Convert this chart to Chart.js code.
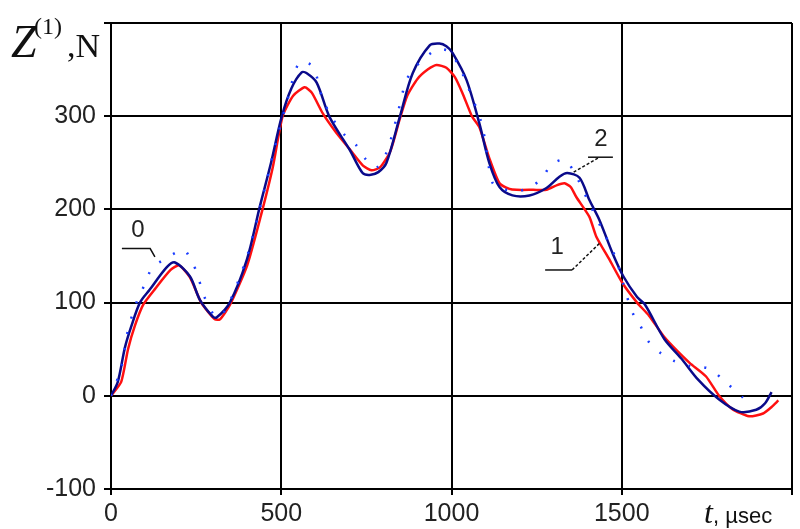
<!DOCTYPE html>
<html>
<head>
<meta charset="utf-8">
<script src="https://cdn.jsdelivr.net/npm/chart.js@4.4.1/dist/chart.umd.min.js"></script>
<style>
    body { margin: 0; background: #fff; }
    #wrap { width: 800px; height: 529px; position: relative; }
</style>
</head>
<body>
<div id="wrap"><canvas id="zChart"></canvas></div>
<script>
// DATA
const xTicks = [0, 500, 1000, 1500, 2000];
const yTicks = [-100, 0, 100, 200, 300, 400];

// curve 1 (red)
const t1 = [0, 30, 50, 70, 95, 130, 175, 200, 232, 265, 305, 320, 350, 400, 440, 475, 504, 535, 569, 590, 622, 660, 700, 740, 765, 790, 820, 848, 870, 900, 930, 956, 985, 1010, 1032, 1060, 1082, 1111, 1141, 1170, 1191, 1240, 1279, 1310, 1332, 1350, 1367, 1405, 1425, 1464, 1502, 1545, 1580, 1625, 1666, 1700, 1747, 1786, 1824, 1874, 1915, 1940, 1960];
const z1 = [0, 15, 50, 75, 98, 115, 135, 140, 127, 100, 82, 82, 98, 140, 193, 245, 300, 322, 331, 325, 303, 283, 265, 247, 242, 245, 262, 297, 322, 340, 350, 355, 352, 342, 325, 300, 288, 255, 228, 222, 221, 221, 221, 226, 228, 224, 213, 192, 171, 146, 121, 100, 86, 63, 47, 35, 21, 0, -14, -22, -19, -12, -5];

// curve 2 (navy)
const t2 = [0, 20, 41, 60, 85, 114, 164, 188, 232, 261, 299, 310, 349, 399, 437, 470, 501, 530, 560, 575, 604, 642, 701, 739, 760, 785, 809, 848, 886, 936, 965, 985, 1003, 1044, 1082, 1111, 1141, 1179, 1229, 1279, 1317, 1340, 1376, 1405, 1434, 1473, 1505, 1545, 1568, 1625, 1675, 1725, 1786, 1845, 1895, 1921, 1940];
const z2 = [0, 15, 52, 75, 100, 114, 138, 143, 128, 103, 85, 84, 100, 146, 203, 250, 299, 330, 347, 346, 336, 299, 264, 239, 237, 240, 250, 299, 346, 376, 378, 375, 368, 339, 292, 250, 224, 215, 215, 223, 235, 239, 234, 210, 189, 153, 128, 106, 98, 61, 40, 17, -4, -17, -15, -8, 4];

// curve 0 (blue dotted)
const t0 = [0, 30, 50, 61, 80, 100, 120, 150, 193, 217, 237, 252, 270, 300, 320, 350, 400, 440, 480, 520, 554, 593, 620, 650, 686, 720, 750, 780, 810, 840, 868, 900, 955, 990, 1020, 1050, 1090, 1120, 1150, 1200, 1240, 1267, 1293, 1332, 1360, 1400, 1440, 1480, 1507, 1521, 1537, 1551, 1575, 1610, 1650, 1700, 1757, 1807, 1856];
const z0 = [0, 30, 71, 85, 105, 120, 137, 145, 154, 156, 143, 133, 110, 88, 85, 102, 150, 205, 265, 320, 358, 353, 320, 298, 280, 269, 253, 245, 262, 300, 339, 355, 371, 370, 355, 330, 290, 229, 222, 220, 226, 234, 248, 253, 240, 210, 180, 150, 117, 100, 85, 78, 60, 47, 38, 32, 29, 14, -2];

const toPoints = (ts, zs) => ts.map((t, i) => ({ x: t, y: zs[i] }));

// curve labels with leader lines (data coordinates)
const curveLabels = [
    { text: "0", at: [79, 177], lines: [[[32, 158], [115, 158], [129, 149]]], dash: [] },
    { text: "2", at: [1439, 275], lines: [[[1401, 256], [1474, 256]], [[1430, 255], [1354, 239]]], dash: [3, 2] },
    { text: "1", at: [1310, 159], lines: [[[1275, 135], [1354, 135]], [[1354, 135], [1436, 164]]], dash: [3, 2] },
];

const labelsPlugin = {
    id: "labels",
    afterDraw(chart) {
        const ctx = chart.ctx;
        const xs = chart.scales.x, ys = chart.scales.y;
        ctx.save();
        ctx.strokeStyle = "#111";
        ctx.lineWidth = 1.5;
        curveLabels.forEach((lab) => {
            lab.lines.forEach((seg, si) => {
                ctx.setLineDash(si === 0 ? [] : lab.dash);
                ctx.beginPath();
                seg.forEach((p, i) => {
                    const px = xs.getPixelForValue(p[0]), py = ys.getPixelForValue(p[1]);
                    if (i === 0) ctx.moveTo(px, py); else ctx.lineTo(px, py);
                });
                ctx.stroke();
            });
            ctx.setLineDash([]);
            ctx.fillStyle = "#222";
            ctx.font = "24px 'Liberation Sans'";
            ctx.textAlign = "center";
            ctx.textBaseline = "middle";
            ctx.fillText(lab.text, xs.getPixelForValue(lab.at[0]), ys.getPixelForValue(lab.at[1]));
        });

        // axis titles
        ctx.fillStyle = "#111";
        ctx.textAlign = "left";
        ctx.textBaseline = "alphabetic";
        ctx.font = "italic 46px 'Liberation Serif'";
        ctx.fillText("Z", 11, 57);
        ctx.font = "24px 'Liberation Serif'";
        ctx.fillText("(1)", 34, 34);
        ctx.font = "34px 'Liberation Serif'";
        ctx.fillText(",N", 67, 57);

        ctx.font = "italic 32px 'Liberation Serif'";
        ctx.fillText("t", 704, 523);
        ctx.font = "22px 'Liberation Sans'";
        ctx.fillText(", \u00b5sec", 713, 523);
        ctx.restore();
    },
};

const zChart = new Chart(document.getElementById("zChart"), {
    type: "line",
    data: {
        datasets: [
            {
                label: "0",
                data: toPoints(t0, z0),
                borderColor: "#1a3cff",
                borderWidth: 2.5,
                borderDash: [2, 14],
                pointRadius: 0,
                tension: 0.3,
            },
            {
                label: "2",
                data: toPoints(t2, z2),
                borderColor: "#0a0a8a",
                borderWidth: 2.5,
                pointRadius: 0,
                tension: 0.3,
            },
            {
                label: "1",
                data: toPoints(t1, z1),
                borderColor: "#ff1010",
                borderWidth: 2.5,
                pointRadius: 0,
                tension: 0.2,
            },
        ],
    },
    options: {
        responsive: true,
        maintainAspectRatio: false,
        animation: false,
        layout: { padding: { top: 22, right: 8, left: 0, bottom: 0 } },
        scales: {
            x: {
                type: "linear",
                min: xTicks[0],
                max: xTicks[xTicks.length - 1],
                afterBuildTicks: (s) => { s.ticks = xTicks.map((v) => ({ value: v })); },
                afterFit: (s) => { s.height = 40; },
                ticks: {
                    color: "#222",
                    font: { family: "'Liberation Sans'", size: 25 },
                    padding: 4,
                    maxRotation: 0,
                    callback: (v) => (v === 2000 ? "" : v),
                },
                grid: { color: "#000", lineWidth: 2, tickLength: 6, tickColor: "#000" },
                border: { color: "#000", width: 2 },
            },
            y: {
                min: yTicks[0],
                max: yTicks[yTicks.length - 1],
                afterBuildTicks: (s) => { s.ticks = yTicks.map((v) => ({ value: v })); },
                afterFit: (s) => { s.width = 111; },
                ticks: {
                    color: "#222",
                    font: { family: "'Liberation Sans'", size: 25 },
                    padding: 8,
                    callback: (v) => (v === 400 ? "" : v),
                },
                grid: { color: "#000", lineWidth: 2, tickLength: 7, tickColor: "#000" },
                border: { color: "#000", width: 2 },
            },
        },
        plugins: {
            legend: { display: false },
            tooltip: { enabled: false },
        },
    },
    plugins: [labelsPlugin],
});
</script>
</body>
</html>
